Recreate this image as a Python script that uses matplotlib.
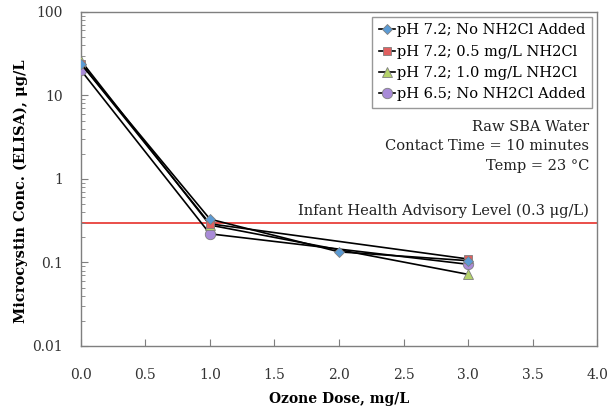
import matplotlib
matplotlib.use("Agg")
import matplotlib.pyplot as plt
from matplotlib.ticker import FixedLocator, FixedFormatter, LogLocator, NullFormatter

plt.rcParams['font.family'] = ['DejaVu Serif', 'Liberation Serif']

# Ozone dose (mg/L) and microcystin concentration (ug/L) for each condition
dose_a = [0.0, 1.0, 2.0, 3.0]
conc_a = [24.0, 0.33, 0.134, 0.105]   # pH 7.2; No NH2Cl Added
dose_b = [0.0, 1.0, 3.0]
conc_b = [24.0, 0.29, 0.11]           # pH 7.2; 0.5 mg/L NH2Cl
dose_c = [0.0, 1.0, 3.0]
conc_c = [26.0, 0.28, 0.072]          # pH 7.2; 1.0 mg/L NH2Cl
dose_d = [0.0, 1.0, 3.0]
conc_d = [20.0, 0.22, 0.095]          # pH 6.5; No NH2Cl Added

labels = ["pH 7.2; No NH2Cl Added", "pH 7.2; 0.5 mg/L NH2Cl",
          "pH 7.2; 1.0 mg/L NH2Cl", "pH 6.5; No NH2Cl Added"]
advisory = 0.3

x_ticks = [0.0, 0.5, 1.0, 1.5, 2.0, 2.5, 3.0, 3.5, 4.0]
y_ticks = [0.01, 0.1, 1, 10, 100]
y_ticklabels = ["0.01", "0.1", "1", "10", "100"]

fig = plt.figure(figsize=(6.13, 4.08), dpi=100)
ax = fig.add_axes([0.132, 0.152, 0.842, 0.819])

ax.axhline(advisory, color='#e8403a', lw=1.3, zorder=1)

styles = [
    dict(marker='D', mfc='#5b9bd5', ms=5.5),
    dict(marker='s', mfc='#e06060', ms=6),
    dict(marker='^', mfc='#b5d36a', ms=7),
    dict(marker='o', mfc='#a98bd8', ms=7.5),
]
series = [(dose_a, conc_a), (dose_b, conc_b), (dose_c, conc_c), (dose_d, conc_d)]
handles = [None] * 4
for i in [3, 2, 1, 0]:
    d, c = series[i]
    st = styles[i]
    h, = ax.plot(d, c, color='black', lw=1.2, marker=st['marker'],
                 mfc=st['mfc'], mec='#7f7f7f', mew=0.6, ms=st['ms'],
                 label=labels[i], zorder=3 + (3 - i))
    handles[i] = h

ax.set_yscale('log')
ax.set_ylim(0.01, 100)
ax.set_xlim(0, 4.0)
ax.xaxis.set_major_locator(FixedLocator(x_ticks))
ax.set_xticklabels([f"{v:.1f}" for v in x_ticks])
ax.yaxis.set_major_locator(FixedLocator(y_ticks))
ax.yaxis.set_major_formatter(FixedFormatter(y_ticklabels))
ax.yaxis.set_minor_locator(LogLocator(base=10, subs=range(2, 10)))
ax.yaxis.set_minor_formatter(NullFormatter())

ax.tick_params(axis='both', which='major', direction='in', length=5,
               color='#7f7f7f', labelsize=10, pad=13, labelcolor='#333333')
ax.tick_params(axis='x', which='major', pad=16)
ax.tick_params(axis='y', which='minor', direction='in', length=3, color='#7f7f7f')
for s in ax.spines.values():
    s.set_color('#7f7f7f')
    s.set_linewidth(1.0)

ax.set_xlabel("Ozone Dose, mg/L", fontsize=10, fontweight='bold', labelpad=7)
ax.set_ylabel("Microcystin Conc. (ELISA), \u03bcg/L", fontsize=10.5,
              fontweight='bold')
ax.yaxis.set_label_coords(-0.103, 0.464)

leg = ax.legend(handles=handles, loc='upper right', bbox_to_anchor=(0.99, 0.985),
                fontsize=10.5, frameon=True, fancybox=False, handlelength=1.1,
                handletextpad=0.15, borderpad=0.45, labelspacing=0.5,
                borderaxespad=0)
leg.get_frame().set_edgecolor('#7f7f7f')
leg.get_frame().set_linewidth(1.0)

ax.text(0.985, 0.677, "Raw SBA Water\nContact Time = 10 minutes\nTemp = 23 \u00b0C",
        transform=ax.transAxes, ha='right', va='top', fontsize=10.5,
        linespacing=1.5, color='#222222')
ax.text(0.985, advisory * 1.12, "Infant Health Advisory Level (0.3 \u03bcg/L)",
        transform=ax.get_yaxis_transform(), ha='right', va='bottom',
        fontsize=10.5, color='#222222')

fig.savefig("out.png", dpi=100, facecolor='white')
